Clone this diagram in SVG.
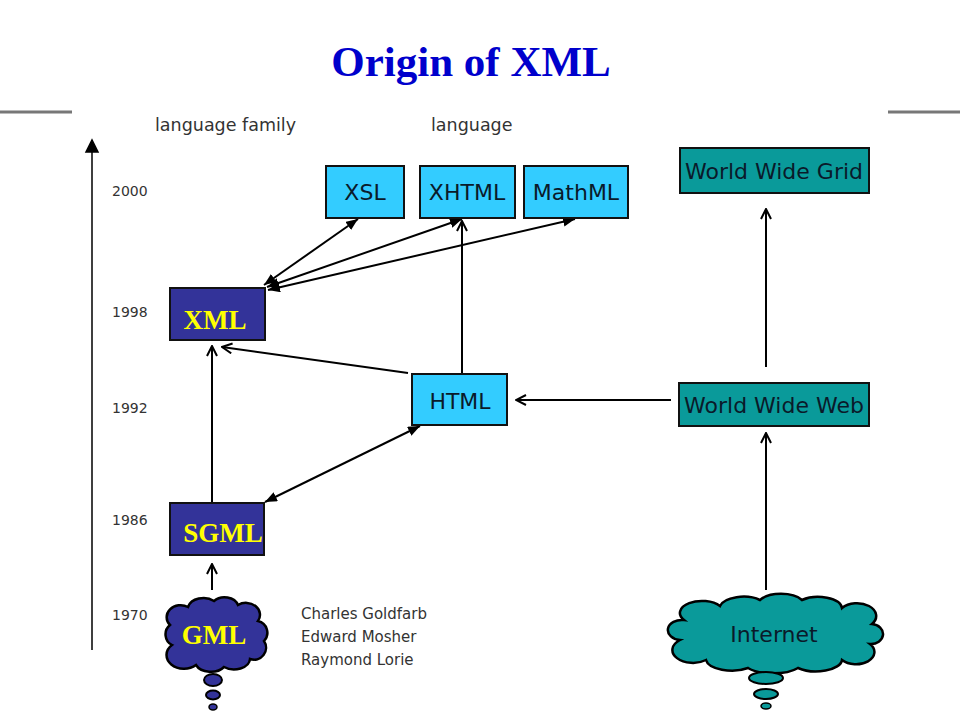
<svg xmlns="http://www.w3.org/2000/svg" width="960" height="720" viewBox="0 0 960 720">
<style>
.lbl{font-family:"DejaVu Sans",Verdana,sans-serif;fill:#333;}
.box-lb{fill:#33CCFF;stroke:#111;stroke-width:2;}
.box-tl{fill:#0A9A9A;stroke:#111;stroke-width:2;}
.box-nv{fill:#333399;stroke:#111;stroke-width:2;}
.t-sans{font-family:"DejaVu Sans",Verdana,sans-serif;font-size:22px;fill:#0a1a2a;text-anchor:middle;}
.t-serif{font-family:"Liberation Serif","Times New Roman",serif;font-weight:bold;font-size:27px;fill:#FFFF00;text-anchor:middle;}
.c{stroke:#000;stroke-width:2;fill:none;}
</style>
<defs>
<marker id="open" viewBox="0 0 12 12" refX="11" refY="6" markerWidth="12" markerHeight="12" markerUnits="userSpaceOnUse" orient="auto-start-reverse">
<path d="M1,1 L11,6 L1,11" fill="none" stroke="#000" stroke-width="2"/>
</marker>
<marker id="fill" viewBox="0 0 12 10" refX="12" refY="5" markerWidth="12" markerHeight="10" markerUnits="userSpaceOnUse" orient="auto-start-reverse">
<path d="M12,5 L0,0 L0,10 Z" fill="#000"/>
</marker>
</defs>
<rect width="960" height="720" fill="#fff"/>
<text x="471" y="76" font-family="Liberation Serif,'Times New Roman',serif" font-weight="bold" font-size="43" fill="#0000CC" text-anchor="middle">Origin of XML</text>
<line x1="0" y1="112" x2="72" y2="112" stroke="#777" stroke-width="3"/>
<line x1="888" y1="112" x2="960" y2="112" stroke="#777" stroke-width="3"/>

<g id="axis-group">
<path d="M92,650 L92,152 M86,152 L98,152 L92,140 Z" stroke="#000" stroke-width="1.5" fill="#000"/>
<text class="lbl" x="155" y="131" font-size="17.5">language family</text>
<text class="lbl" x="431" y="131" font-size="17.5">language</text>
<text class="lbl" x="112" y="196" font-size="14">2000</text>
<text class="lbl" x="112" y="317" font-size="14">1998</text>
<text class="lbl" x="112" y="413" font-size="14">1992</text>
<text class="lbl" x="112" y="525" font-size="14">1986</text>
<text class="lbl" x="112" y="620" font-size="14">1970</text>
<text class="lbl" x="301" y="619" font-size="15">Charles Goldfarb</text>
<text class="lbl" x="301" y="642" font-size="15">Edward Mosher</text>
<text class="lbl" x="301" y="665" font-size="15">Raymond Lorie</text>
</g>

<g id="connectors">
<line class="c" x1="358" y1="219" x2="264" y2="285" marker-start="url(#fill)" marker-end="url(#fill)"/>
<line class="c" x1="462" y1="219" x2="267" y2="287" marker-start="url(#fill)" marker-end="url(#fill)"/>
<line class="c" x1="575" y1="219" x2="268" y2="290" marker-start="url(#fill)" marker-end="url(#fill)"/>
<line class="c" x1="462" y1="374" x2="462" y2="221" marker-end="url(#open)"/>
<line class="c" x1="408" y1="373" x2="222" y2="347" marker-end="url(#open)"/>
<line class="c" x1="212" y1="503" x2="212" y2="346" marker-end="url(#open)"/>
<line class="c" x1="265" y1="502" x2="420" y2="426" marker-start="url(#fill)" marker-end="url(#fill)"/>
<line class="c" x1="212" y1="590" x2="212" y2="564" marker-end="url(#open)"/>
<line class="c" x1="671" y1="400" x2="516" y2="400" marker-end="url(#open)"/>
<line class="c" x1="766" y1="590" x2="766" y2="433" marker-end="url(#open)"/>
<line class="c" x1="766" y1="367" x2="766" y2="209" marker-end="url(#open)"/>
</g>

<g id="xsl"><rect class="box-lb" x="326" y="166" width="78" height="52"/><text class="t-sans" x="365" y="200">XSL</text></g>
<g id="xhtml"><rect class="box-lb" x="420" y="166" width="95" height="52"/><text class="t-sans" x="467" y="200">XHTML</text></g>
<g id="mathml"><rect class="box-lb" x="524" y="166" width="104" height="52"/><text class="t-sans" x="576" y="200">MathML</text></g>
<g id="xml"><rect class="box-nv" x="170" y="288" width="95" height="52"/><text class="t-serif" x="215" y="329">XML</text></g>
<g id="html"><rect class="box-lb" x="412" y="374" width="95" height="51"/><text class="t-sans" x="460" y="409">HTML</text></g>
<g id="sgml"><rect class="box-nv" x="170" y="503" width="94" height="52"/><text class="t-serif" x="223" y="542">SGML</text></g>
<g id="wwg"><rect class="box-tl" x="680" y="148" width="189" height="45"/><text class="t-sans" x="774" y="179" font-size="19">World Wide Grid</text></g>
<g id="www"><rect class="box-tl" x="679" y="383" width="190" height="43"/><text class="t-sans" x="774" y="413" font-size="19">World Wide Web</text></g>

<g id="gml">
<path d="M172,645 a12,12 0 0 1 -2,-20 a14,12 0 0 1 18,-18 a16,12 0 0 1 26,-6 a14,11 0 0 1 24,4 a14,12 0 0 1 20,16 a12,12 0 0 1 6,20 a12,12 0 0 1 -14,18 a16,11 0 0 1 -26,8 a16,11 0 0 1 -28,-2 a14,11 0 0 1 -24,-20 Z" fill="#333399" stroke="#000" stroke-width="2.5"/>
<ellipse cx="213" cy="680" rx="9" ry="6" fill="#333399" stroke="#000" stroke-width="2"/>
<ellipse cx="213" cy="695" rx="7" ry="4.5" fill="#333399" stroke="#000" stroke-width="2"/>
<ellipse cx="213" cy="707" rx="4" ry="3" fill="#333399" stroke="#000" stroke-width="1.5"/>
<text class="t-serif" x="214" y="644">GML</text>
</g>

<g id="internet">
<path d="M680,640 a14,10 0 0 1 4,-20 a22,12 0 0 1 36,-14 a24,12 0 0 1 40,-6 a24,12 0 0 1 42,0 a24,12 0 0 1 40,8 a18,12 0 0 1 30,16 a12,10 0 0 1 -2,20 a18,12 0 0 1 -28,16 a26,12 0 0 1 -44,8 a30,12 0 0 1 -50,0 a26,12 0 0 1 -42,-8 a16,10 0 0 1 -26,-20 Z" fill="#0A9A9A" stroke="#000" stroke-width="2.5"/>
<ellipse cx="766" cy="678" rx="17" ry="6" fill="#0A9A9A" stroke="#000" stroke-width="2"/>
<ellipse cx="766" cy="694" rx="12" ry="5" fill="#0A9A9A" stroke="#000" stroke-width="2"/>
<ellipse cx="766" cy="706" rx="5" ry="3" fill="#0A9A9A" stroke="#000" stroke-width="1.5"/>
<text class="t-sans" x="774" y="642" font-size="20">Internet</text>
</g>
</svg>
